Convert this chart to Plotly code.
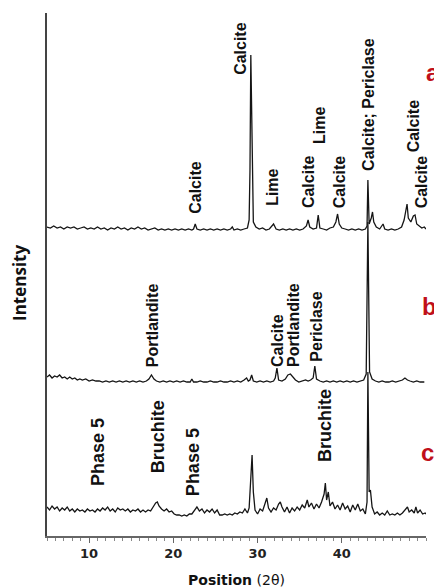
import plotly.graph_objects as go

# ---- data (intensity above each pattern's own baseline, arbitrary units) ----
a_pts = [(5.0,3),(5.4,2),(5.8,4),(6.2,2),(6.6,3),(7.0,1),(7.4,3),(7.8,2),(8.2,3),(8.6,1),(9.0,2),(9.4,3),
         (9.8,1),(10.2,2),(10.6,1),(11.0,3),(11.4,1),(11.8,2),(12.2,0),(12.6,2),(13.0,1),(13.4,3),(13.8,1),
         (14.2,2),(14.6,0),(15.0,2),(15.4,1),(15.8,3),(16.2,1),(16.6,2),(17.0,0),(17.4,1),(17.8,2),(18.2,0),
         (18.6,1),(19.0,0),(19.4,1),(19.8,0),(20.2,1),(20.6,0),(21.0,1),(21.4,0),(21.8,1),(22.2,0),(22.4,1),
         (22.6,6),(22.8,1),(23.2,0),(23.6,1),(24.0,0),(24.4,1),(24.8,0),(25.2,1),(25.6,0),(26.0,1),(26.4,0),
         (26.8,1),(27.0,3),(27.2,0),(27.6,1),(28.0,0),(28.4,1),(28.8,2),(29.0,10),(29.1,60),(29.2,175),
         (29.35,60),(29.5,8),(29.8,3),(30.2,1),(30.6,2),(31.0,0),(31.4,1),(31.9,6),(32.2,1),(32.6,0),(33.0,1),
         (33.4,0),(33.8,1),(34.2,0),(34.6,1),(35.0,0),(35.4,1),(35.8,4),(36.0,10),(36.2,3),(36.6,1),(37.0,2),
         (37.2,15),(37.4,2),(37.8,1),(38.2,0),(38.6,2),(39.0,3),(39.3,8),(39.5,16),(39.7,6),(40.0,2),(40.4,1),
         (40.8,0),(41.2,1),(41.6,0),(42.0,1),(42.4,0),(42.8,1),(43.0,4),(43.1,50),(43.25,6),(43.5,12),
         (43.65,18),(43.8,8),(44.1,3),(44.5,1),(44.9,6),(45.1,1),(45.5,0),(45.9,1),(46.3,0),(46.7,1),(47.1,3),
         (47.4,10),(47.6,20),(47.75,26),(47.9,12),(48.2,8),(48.5,14),(48.7,15),(48.9,6),(49.2,4),(49.5,2),
         (49.8,3),(50.0,1)]

b_pts = [(5.0,5),(5.3,7),(5.6,4),(5.9,6),(6.2,5),(6.5,7),(6.8,4),(7.1,5),(7.4,3),(7.7,5),(8.0,3),(8.3,4),
         (8.6,2),(8.9,3),(9.2,2),(9.6,3),(10.0,1),(10.4,2),(10.8,1),(11.2,1),(11.6,0),(12.0,1),(12.4,0),
         (12.8,1),(13.2,0),(13.6,1),(14.0,0),(14.4,1),(14.8,0),(15.2,1),(15.6,0),(16.0,1),(16.4,0),(16.8,1),
         (17.1,3),(17.4,7),(17.7,3),(18.0,1),(18.4,0),(18.8,1),(19.2,0),(19.6,1),(20.0,0),(20.4,1),(20.8,0),
         (21.2,1),(21.6,0),(22.0,0),(22.2,3),(22.4,0),(22.8,0),(23.2,1),(23.6,0),(24.0,0),(24.4,1),(24.8,0),
         (25.2,0),(25.6,1),(26.0,0),(26.4,0),(26.8,1),(27.2,0),(27.6,1),(28.0,0),(28.4,2),(28.7,4),(28.9,1),
         (29.1,2),(29.3,7),(29.5,1),(29.9,0),(30.3,1),(30.7,0),(31.1,1),(31.5,0),(31.9,1),(32.1,4),(32.3,14),
         (32.5,2),(32.9,1),(33.3,3),(33.6,7),(33.9,8),(34.2,5),(34.5,2),(34.9,0),(35.3,1),(35.7,2),(36.0,1),
         (36.3,2),(36.6,4),(36.8,16),(37.0,3),(37.4,1),(37.8,0),(38.2,1),(38.6,0),(39.0,1),(39.4,0),(39.8,1),
         (40.2,0),(40.6,1),(41.0,0),(41.4,1),(41.8,0),(42.2,1),(42.6,2),(42.9,8),(43.1,160),(43.3,10),
         (43.6,3),(44.0,1),(44.4,0),(44.8,1),(45.2,0),(45.6,0),(46.0,1),(46.4,0),(46.8,1),(47.2,2),(47.5,4),
         (47.8,2),(48.1,1),(48.5,0),(48.9,1),(49.3,0),(49.8,0)]

c_pts = [(5.0,5),(5.3,2),(5.6,6),(5.9,3),(6.2,5),(6.5,1),(6.8,4),(7.1,2),(7.4,5),(7.7,1),(8.0,3),(8.3,0),
         (8.6,3),(8.9,1),(9.2,2),(9.5,0),(9.8,3),(10.1,1),(10.4,2),(10.7,0),(11.0,3),(11.3,1),(11.6,4),
         (11.9,2),(12.2,5),(12.5,1),(12.8,3),(13.1,0),(13.4,4),(13.7,2),(14.0,3),(14.3,1),(14.6,3),(14.9,0),
         (15.2,2),(15.5,1),(15.8,3),(16.1,0),(16.4,2),(16.7,0),(17.0,2),(17.3,1),(17.6,5),(17.9,9),(18.1,10),
         (18.3,6),(18.6,3),(18.9,1),(19.2,3),(19.5,0),(19.8,1),(20.1,-2),(20.4,-3),(20.7,-3),(21.0,-4),
         (21.3,-3),(21.6,-4),(21.9,-2),(22.2,-2),(22.5,2),(22.8,5),(23.1,1),(23.4,3),(23.7,-1),(24.0,2),
         (24.3,0),(24.6,3),(24.9,-1),(25.2,2),(25.5,-3),(25.8,-3),(26.1,-2),(26.4,-3),(26.7,-2),(27.0,-3),
         (27.3,-1),(27.6,-2),(27.9,0),(28.2,-1),(28.5,3),(28.8,-1),(29.0,4),(29.2,30),(29.35,57),(29.5,20),
         (29.7,2),(30.0,-2),(30.3,3),(30.6,1),(30.9,10),(31.1,14),(31.3,4),(31.6,0),(31.9,4),(32.2,2),
         (32.5,8),(32.7,10),(32.9,5),(33.2,0),(33.5,5),(33.8,-1),(34.1,4),(34.4,1),(34.7,5),(35.0,2),(35.3,7),
         (35.6,4),(35.9,12),(36.1,5),(36.4,9),(36.7,3),(37.0,8),(37.3,4),(37.6,10),(37.9,18),(38.05,29),
         (38.2,12),(38.4,20),(38.6,6),(38.9,10),(39.2,3),(39.5,7),(39.8,2),(40.1,9),(40.4,3),(40.7,6),(41.0,0),
         (41.3,7),(41.6,2),(41.9,8),(42.2,1),(42.5,3),(42.8,-2),(43.0,10),(43.1,140),(43.25,20),(43.4,22),
         (43.6,5),(43.9,-2),(44.2,0),(44.5,-3),(44.8,-1),(45.1,-3),(45.4,1),(45.7,-3),(46.0,-2),(46.3,-3),
         (46.6,-1),(46.9,-3),(47.2,-1),(47.5,2),(47.8,5),(48.0,0),(48.3,2),(48.6,-1),(48.8,5),(49.0,-1),
         (49.3,2),(49.6,-2),(49.9,-1),(50.0,-2)]

# phase labels: (text, 2theta, height)
a_labels = [("Calcite",22.55,349),("Calcite",27.9,488),("Lime",31.7,349),("Calcite",36.0,354),
            ("Lime",37.3,410),("Calcite",39.7,354),("Calcite; Periclase",43.1,432),("Calcite",48.5,410),
            ("Calcite",49.45,354)]
b_labels = [("Portlandite",17.5,211),("Calcite",32.3,196),("Portlandite",34.2,211),("Periclase",36.9,209)]
c_labels = [("Phase 5",11.06,84),("Bruchite",18.2,99),("Phase 5",22.35,74),("Bruchite",38.0,111)]

offsets = {"a": 306, "b": 154, "c": 24}
x_ticks = [10, 20, 30, 40]

fig = go.Figure()
for name, pts in (("a", a_pts), ("b", b_pts), ("c", c_pts)):
    fig.add_trace(go.Scatter(x=[p[0] for p in pts], y=[p[1] + offsets[name] for p in pts],
                             mode="lines", line=dict(color="#151515", width=1.3),
                             showlegend=False, hoverinfo="skip"))

ann = []
for labels, size in ((a_labels, 16), (b_labels, 16), (c_labels, 18)):
    for t, x, y in labels:
        ann.append(dict(text=t, x=x, y=y, xref="x", yref="y", textangle=-90, showarrow=False,
                        xanchor="center", yanchor="middle",
                        font=dict(family="Liberation Sans Narrow, Liberation Sans, Arial", size=size,
                                  color="#111111", weight="bold")))

for letter, px, py in (("a", 1.018, 0.887), ("b", 1.01, 0.438), ("c", 1.003, 0.159)):
    ann.append(dict(text=letter, x=px, y=py, xref="paper", yref="paper", showarrow=False,
                    xanchor="center", yanchor="middle",
                    font=dict(family="Liberation Sans Narrow, Liberation Sans, Arial", size=24,
                              color="#c0101a", weight="bold")))

ann.append(dict(text="Intensity", x=-0.071, y=0.484, xref="paper", yref="paper", textangle=-90,
                showarrow=False, xanchor="center", yanchor="middle",
                font=dict(family="Open Sans, Liberation Sans", size=17, color="#111111", weight="bold")))
ann.append(dict(text="<b>Position</b> (2θ)", x=0.501, y=-0.084, xref="paper", yref="paper",
                showarrow=False, xanchor="center", yanchor="middle",
                font=dict(family="DejaVu Sans", size=14, color="#111111")))

# page body has an 8px margin, so the figure is 8px smaller and margins shifted
fig.update_layout(
    width=434, height=580, margin=dict(l=39, r=16, t=5, b=52),
    plot_bgcolor="white", paper_bgcolor="white", annotations=ann,
    xaxis=dict(range=[5, 50], showgrid=False, zeroline=False, showline=True, linecolor="#666666",
               linewidth=1.5, tickmode="array", tickvals=x_ticks, ticks="outside", ticklen=5,
               tickcolor="#666666", tickwidth=1,
               tickfont=dict(family="DejaVu Sans", size=13, color="#222222", weight="bold"),
               minor=dict(dtick=1, tick0=0, ticks="outside", ticklen=3, tickcolor="#888888",
                          showgrid=False)),
    yaxis=dict(range=[0, 523], showgrid=False, zeroline=False, showline=True, linecolor="#444444",
               linewidth=1.5, showticklabels=False, ticks=""),
)
fig.write_html("out.html")
